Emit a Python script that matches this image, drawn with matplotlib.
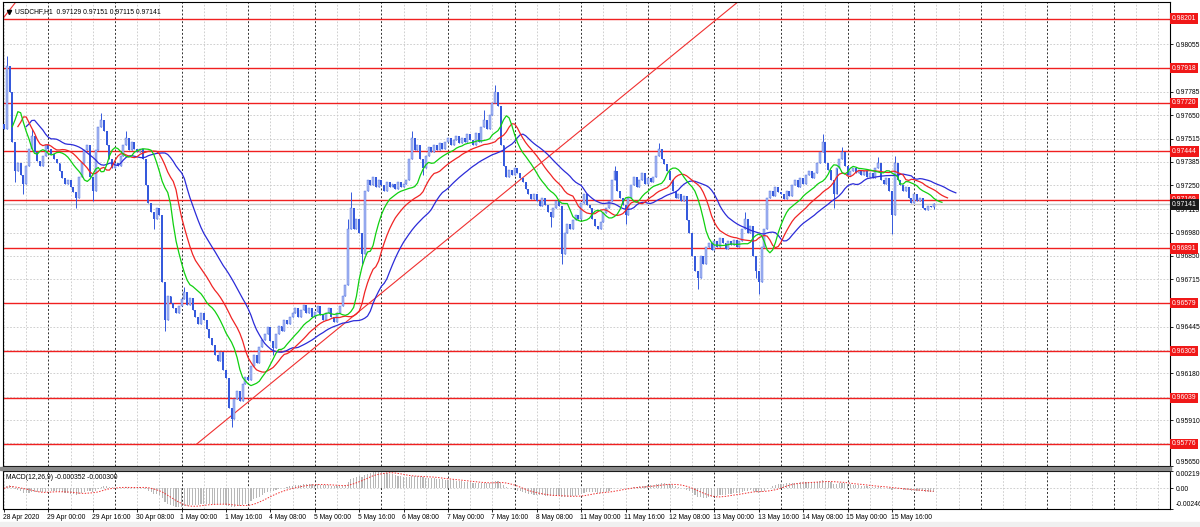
import numpy as np
import pandas as pd
import matplotlib
matplotlib.use("Agg")
import matplotlib.pyplot as plt
from matplotlib.patches import Rectangle

# ---------------- data ----------------
symbol_title = "USDCHF,H1  0.97129 0.97151 0.97115 0.97141"
macd_title = "MACD(12,26,9) -0.000352 -0.000300"

first_open_pips = 9760
close_pips = [
    9757, 9793, 9778, 9750, 9733, 9738, 9731, 9726, 9736, 9746,
    9753, 9744, 9739, 9736, 9742, 9748, 9746, 9743, 9740, 9738,
    9733, 9729, 9726, 9728, 9724, 9721, 9718, 9730, 9738, 9745,
    9748, 9730, 9722, 9745, 9758, 9762, 9756, 9748, 9740, 9735,
    9738, 9736, 9742, 9748, 9752, 9745, 9750, 9746, 9744, 9746,
    9740, 9725, 9715, 9710, 9706, 9712, 9708, 9670, 9648, 9662,
    9658, 9655, 9652, 9656, 9660, 9664, 9657, 9661, 9654, 9650,
    9646, 9652, 9648, 9643, 9638, 9634, 9628, 9625, 9630, 9620,
    9615, 9598, 9592, 9603, 9608, 9602, 9612, 9616, 9614, 9622,
    9628, 9624, 9633, 9637, 9640, 9644, 9636, 9632, 9640, 9645,
    9642, 9648, 9646, 9650, 9652, 9655, 9650, 9654, 9657, 9652,
    9655, 9650, 9653, 9656, 9651, 9648, 9652, 9655, 9650, 9647,
    9652, 9656, 9662, 9668, 9700, 9712, 9700, 9706, 9698, 9686,
    9722, 9728, 9725, 9730, 9724, 9728, 9725, 9722, 9727, 9724,
    9726, 9723, 9727, 9724, 9726, 9728, 9740, 9752, 9745, 9748,
    9740, 9735, 9742, 9747, 9744, 9748, 9745, 9749, 9746, 9750,
    9752, 9748, 9751, 9753, 9749, 9752, 9750, 9754, 9751, 9748,
    9755, 9750, 9758, 9762, 9757, 9765, 9772, 9778, 9770, 9748,
    9736, 9730, 9734, 9731, 9735, 9732, 9729, 9727, 9723, 9720,
    9717, 9720, 9716, 9713, 9718, 9714, 9710, 9707, 9712, 9716,
    9713, 9686, 9698, 9703, 9700, 9705, 9708, 9706, 9715, 9720,
    9714, 9712, 9706, 9702, 9700, 9704, 9709, 9712, 9716, 9728,
    9733, 9722, 9718, 9714, 9708, 9718, 9725, 9730, 9724, 9728,
    9732, 9726, 9729, 9727, 9730, 9742, 9746, 9740, 9737, 9733,
    9728, 9722, 9718, 9720, 9716, 9719, 9705, 9698, 9685, 9676,
    9672, 9685, 9680, 9690, 9692, 9688, 9693, 9690, 9695, 9692,
    9689, 9693, 9691, 9694, 9690, 9693, 9700, 9706, 9698, 9702,
    9685, 9676, 9670, 9690, 9700, 9718, 9722, 9719, 9724, 9721,
    9720, 9717, 9722, 9719, 9725, 9728, 9724, 9729, 9726, 9731,
    9733, 9729, 9732, 9738, 9744, 9750, 9738, 9734, 9728, 9720,
    9735, 9740, 9744, 9736, 9731, 9733, 9735, 9732, 9734, 9731,
    9733, 9730, 9732, 9729, 9735, 9738, 9728, 9726, 9729, 9722,
    9708, 9738, 9728, 9725, 9722, 9724, 9718, 9715, 9720, 9716,
    9718, 9712, 9711, 9713, 9712.9, 9714.1,
]
spike_high_pips = {1: 9799, 10: 9757, 35: 9766, 44: 9756, 65: 9667, 124: 9706,
                   125: 9721, 147: 9756, 173: 9768, 177: 9782, 220: 9736,
                   236: 9749, 267: 9710, 295: 9754, 302: 9747, 315: 9741,
                   321: 9742, 335: 9715.1}
spike_low_pips = {4: 9727, 7: 9720, 26: 9712, 32: 9716, 54: 9700, 58: 9642,
                  82: 9587, 97: 9628, 129: 9680, 151: 9731, 197: 9701,
                  201: 9680, 224: 9703, 250: 9666, 271: 9672, 272: 9663,
                  299: 9712, 320: 9697, 335: 9711.5}

levels = [0.98201, 0.97918, 0.97720, 0.97444, 0.97169, 0.96891,
          0.96579, 0.96305, 0.96039, 0.95776]
last_price = 0.97141
price_ticks = [0.98055, 0.97785, 0.97650, 0.97515, 0.97385, 0.97250, 0.97115,
               0.96980, 0.96850, 0.96715, 0.96445, 0.96180, 0.95910, 0.95650]
hidden_grid = [0.97920, 0.96580, 0.96310, 0.96045, 0.95780]
time_labels = ["28 Apr 2020", "29 Apr 00:00", "29 Apr 16:00", "30 Apr 08:00",
               "1 May 00:00", "1 May 16:00", "4 May 08:00", "5 May 00:00",
               "5 May 16:00", "6 May 08:00", "7 May 00:00", "7 May 16:00",
               "8 May 08:00", "11 May 00:00", "11 May 16:00", "12 May 08:00",
               "13 May 00:00", "13 May 16:00", "14 May 08:00", "15 May 00:00",
               "15 May 16:00"]
trend_main = [(69.5, 0.95776), (155.0, 0.96881)]
trend_left = [(-0.4, 0.98201), (4.0, 0.98290)]
macd_ticks = [0.002199, 0.0, -0.00246]
macd_tick_labels = ["0.002199", "0.00", "-0.00246"]

# ---------------- derived series ----------------
close = np.array(close_pips, dtype=float) / 10000
N = len(close)
idx = np.arange(N)
opn = np.r_[first_open_pips / 10000, close[:-1]]
high = np.maximum(opn, close)
low = np.minimum(opn, close)
for k, v in spike_high_pips.items():
    high[k] = v / 10000
for k, v in spike_low_pips.items():
    low[k] = v / 10000
median = (high + low) / 2


def smma(x, n):
    out = np.empty_like(x)
    out[0] = x[0]
    for i in range(1, len(x)):
        out[i] = (out[i - 1] * (n - 1) + x[i]) / n
    return out


jaw = smma(median, 13)
teeth = smma(median, 8)
lips = smma(median, 5)

s = pd.Series(close)
macd_main = (s.ewm(span=12, adjust=False).mean() - s.ewm(span=26, adjust=False).mean()).values
macd_sig = pd.Series(macd_main).rolling(9, min_periods=1).mean().values

# ---------------- figure ----------------
W, H = 1200, 527
fig = plt.figure(figsize=(W / 100, H / 100), dpi=100)
fig.patch.set_facecolor("white")
FONT = "Liberation Sans"
FS = 4.9


def fx(p):
    return p / W


def fy(p):
    return 1 - p / H


L, R = 3, 1170
ax = fig.add_axes([fx(L), fy(466), fx(R) - fx(L), fy(2) - fy(466)])
axm = fig.add_axes([fx(L), fy(508.5), fx(R) - fx(L), fy(470.5) - fy(508.5)])

pxbar = 2.775
x0 = 4
xlim = ((L - x0) / pxbar, (R - x0) / pxbar)
for a in (ax, axm):
    a.set_xlim(*xlim)
    for sp in a.spines.values():
        sp.set_color("black")
        sp.set_linewidth(0.8)
    a.set_facecolor("white")

ymin = 0.95650
ax.set_ylim(ymin, ymin + 464 / 17540)
axm.set_ylim(macd_ticks[2], macd_ticks[0])

# grid
for g in price_ticks + hidden_grid:
    ax.axhline(g, color="#c8c8c8", lw=0.6, ls=(0, (2, 2)), zorder=0)
axm.axhline(0, color="#c8c8c8", lw=0.6, ls=(0, (2, 2)), zorder=0)
for i in range(0, 424, 8):
    dark = (i - 16) % 24 == 0
    for a in (ax, axm):
        a.axvline(i, color="#303030" if dark else "#c8c8c8",
                  lw=0.7 if dark else 0.6, ls=(0, (2, 2)), zorder=0)

# level lines
for lv in levels:
    ax.axhline(lv, color="#f02020", lw=1.0, zorder=1)
ax.axhline(last_price, color="#c8c8c8", lw=1.0, zorder=1)

# trendlines (rays)
(xa, ya), (xb, yb) = trend_main
slope = (yb - ya) / (xb - xa)
xe = 420
ax.plot([xa, xe], [ya, ya + slope * (xe - xa)], color="#f03030", lw=0.8, zorder=2)
(xa, ya), (xb, yb) = trend_left
ax.plot([xa, xb], [ya, yb], color="#f03030", lw=0.8, zorder=2, clip_on=True)

# candles
bull = close >= opn
body_lo = np.minimum(opn, close)
body_h = np.maximum(np.abs(close - opn), 0.000015)
ax.vlines(idx, low, high, color="#3559dc", lw=0.7, zorder=3)
ax.bar(idx[bull], body_h[bull], bottom=body_lo[bull], width=0.72,
       color="#a8b9f2", edgecolor="#4a6be0", linewidth=0.3, zorder=4)
ax.bar(idx[~bull], body_h[~bull], bottom=body_lo[~bull], width=0.72,
       color="#3559dc", linewidth=0, zorder=4)

# alligator
ax.plot(idx + 8, jaw, color="#2b2bd8", lw=0.9, zorder=5)
ax.plot(idx + 5, teeth, color="#f02424", lw=0.9, zorder=5)
ax.plot(idx + 3, lips, color="#10d010", lw=0.9, zorder=5)

# price axis on right
ax.yaxis.tick_right()
ax.set_yticks(price_ticks)
ax.set_yticklabels([f"{t:.5f}" for t in price_ticks])
ax.tick_params(axis="y", length=2.5, width=0.6, pad=1.5, labelsize=FS,
               labelfontfamily=FONT)
ax.get_yticklabels()[-1].set_va("bottom")
ax.set_xticks([])

ytr = ax.get_yaxis_transform()
for lv in levels:
    ax.text(1.0018, lv, f"{lv:.5f}", transform=ytr, ha="left", va="center",
            fontsize=FS, family=FONT, color="white", zorder=10, clip_on=False,
            bbox=dict(boxstyle="square,pad=0.25", fc="#f01818", ec="none"))
ax.text(1.0018, last_price, f"{last_price:.5f}", transform=ytr, ha="left",
        va="center", fontsize=FS, family=FONT, color="white", zorder=11,
        clip_on=False, bbox=dict(boxstyle="square,pad=0.25", fc="#1a1a1a", ec="none"))

# title
ax.plot([0.0055], [0.978], marker="v", ms=3, color="black", transform=ax.transAxes,
        clip_on=False, zorder=12)
ax.text(0.0105, 0.979, symbol_title, transform=ax.transAxes, ha="left", va="center",
        fontsize=FS, family=FONT, color="black", zorder=12)

# MACD
axm.bar(idx, macd_main, width=0.4, color="#b8b8b8", linewidth=0, zorder=2)
axm.plot(idx, macd_sig, color="#f03030", lw=0.7, ls=(0, (1.5, 1.5)), zorder=3)
axm.yaxis.tick_right()
axm.set_yticks(macd_ticks)
axm.set_yticklabels(macd_tick_labels)
axm.tick_params(axis="y", length=2.5, width=0.6, pad=1.5, labelsize=FS,
                labelfontfamily=FONT)
mlabs = axm.get_yticklabels()
mlabs[0].set_va("top")
mlabs[-1].set_va("bottom")
axm.set_xticks([16 * k for k in range(len(time_labels))])
axm.set_xticklabels([])
axm.tick_params(axis="x", length=2.5, width=0.6)
axm.text(0.0025, 0.82, macd_title, transform=axm.transAxes, ha="left", va="center",
         fontsize=FS, family=FONT, color="black", zorder=12)

xtr = axm.get_xaxis_transform()
for k, lab in enumerate(time_labels):
    axm.text(16 * k - 0.4, -0.24, lab, transform=xtr, ha="left", va="center",
             fontsize=FS, family=FONT, color="black", clip_on=False)

# separator between panels and bottom bar
fig.patches.append(Rectangle((fx(0), fy(469.5)), fx(R + 1), 3 / H,
                             transform=fig.transFigure, color="#8a8a8a", zorder=0))
fig.patches.append(Rectangle((0, 0), 1, 5 / H, transform=fig.transFigure,
                             color="#f0f0f0", zorder=0))

fig.savefig("out.png", dpi=100, facecolor="white")
